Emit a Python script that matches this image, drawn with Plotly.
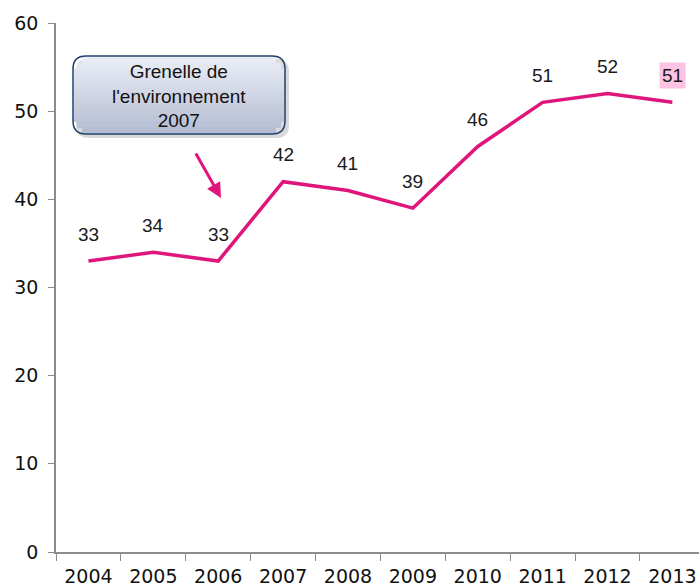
import plotly.graph_objects as go

years = ["2004", "2005", "2006", "2007", "2008", "2009", "2010", "2011", "2012", "2013"]
values = [33, 34, 33, 42, 41, 39, 46, 51, 52, 51]
y_ticks = [0, 10, 20, 30, 40, 50, 60]

pink = "#e0157c"
axis_grey = "#8c8c8c"

fig = go.Figure()
fig.add_trace(go.Scatter(x=years, y=values, mode="lines",
                         line=dict(color=pink, width=3.5), hoverinfo="skip"))

# data labels above each point (x given as category index)
for i, v in enumerate(values):
    last = i == len(values) - 1
    fig.add_annotation(x=i, y=v, text=str(v), showarrow=False, yshift=27,
                       font=dict(family="Liberation Sans", size=19, color="#1a1a1a"),
                       bgcolor="#fcc4e2" if last else "rgba(0,0,0,0)",
                       borderpad=2)

# pixel -> paper helpers (plot area 56..699 x 23..552)
def px(x):
    return (x - 56) / 643

def py(y):
    return (552 - y) / 529

def rounded(x0, y0, x1, y1, r):
    rx, ry = r / 643, r / 529
    X0, X1, Y0, Y1 = px(x0), px(x1), py(y1), py(y0)
    return (f"M {X0+rx},{Y0} L {X1-rx},{Y0} Q {X1},{Y0} {X1},{Y0+ry} "
            f"L {X1},{Y1-ry} Q {X1},{Y1} {X1-rx},{Y1} L {X0+rx},{Y1} "
            f"Q {X0},{Y1} {X0},{Y1-ry} L {X0},{Y0+ry} Q {X0},{Y0} {X0+rx},{Y0} Z")

# shadow + gradient box
fig.add_shape(type="path", xref="paper", yref="paper", path=rounded(76, 59, 289, 138, 13),
              fillcolor="rgba(0,0,0,0.15)", line=dict(width=0), layer="above")
n = 13
top_c, bot_c = (232, 236, 244), (182, 190, 212)
for k in range(n):
    t = k / (n - 1)
    c = tuple(round(a + (b - a) * t) for a, b in zip(top_c, bot_c))
    y_top = 57 + k * 76 / n
    y_bot = y_top + 76 / n + (0.8 if k < n - 1 else 0)
    inset = 8 if k in (0, n - 1) else (3 if k in (1, n - 2) else 0)
    fig.add_shape(type="rect", xref="paper", yref="paper",
                  x0=px(74 + inset), x1=px(284 - inset), y0=py(y_bot), y1=py(y_top),
                  fillcolor=f"rgb{c}", line=dict(width=0), layer="above")
fig.add_shape(type="path", xref="paper", yref="paper", path=rounded(73, 56, 285, 134, 13),
              fillcolor="rgba(0,0,0,0)", line=dict(color="#1f3f6e", width=1.5), layer="above")

fig.add_annotation(xref="paper", yref="paper", x=px(179), y=py(96),
                   xanchor="center", yanchor="middle",
                   text="Grenelle de<br>l'environnement<br>2007", showarrow=False,
                   font=dict(family="Liberation Sans", size=19, color="#111111"))

# arrow
fig.add_annotation(xref="paper", yref="paper", x=px(221), y=py(198), ax=-26, ay=-46,
                   text="", showarrow=True, arrowhead=2, arrowsize=1, arrowwidth=3,
                   arrowcolor=pink)

fig.update_layout(
    width=699, height=586,
    margin=dict(l=56, r=0, t=23, b=34),
    plot_bgcolor="white", paper_bgcolor="white",
    showlegend=False,
    font=dict(family="DejaVu Sans", size=19, color="#111111"),
    xaxis=dict(type="category", range=[-0.5, 9.41], showgrid=False, zeroline=False,
               showline=True, linecolor=axis_grey, linewidth=1.5,
               ticks="outside", ticklen=7, tickcolor=axis_grey, tickson="boundaries",
               ticklabelstandoff=6, tickfont=dict(size=19)),
    yaxis=dict(range=[0, 60], tickvals=y_ticks, showgrid=False, zeroline=False,
               showline=True, linecolor=axis_grey, linewidth=1.5,
               ticks="outside", ticklen=6, tickcolor=axis_grey, ticklabelstandoff=6,
               tickfont=dict(size=19)),
)

fig.write_html("out.html", config={"displayModeBar": False},
               post_script="document.body.style.margin='0';document.body.style.overflow='hidden';")
